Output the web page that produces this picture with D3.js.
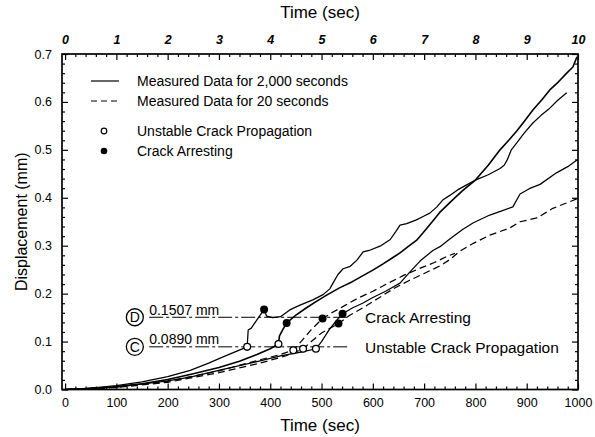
<!DOCTYPE html>
<html><head><meta charset="utf-8">
<script src="https://cdn.jsdelivr.net/npm/d3@7"></script>
<style>
body{margin:0;background:#fff;}
text{font-family:Arial,"Liberation Sans",Helvetica,sans-serif;fill:#000;}
</style></head><body>
<svg id="c" width="595" height="437"></svg>
<script>
// ---- data (time in seconds, displacement in mm) ----
const xTicksBottom = [0,100,200,300,400,500,600,700,800,900,1000];
const xTicksTop = [0,1,2,3,4,5,6,7,8,9,10];
const yTicks = [0.0,0.1,0.2,0.3,0.4,0.5,0.6,0.7];

// solid curves: measured data for 2,000 seconds (bottom axis, sec)
const solid1 = [[0,0],[50,0.003],[100,0.008],[150,0.016],[200,0.027],[244,0.04],[280,0.055],[308,0.068],[335,0.08],[355,0.089],[357,0.124],[363,0.128],[375,0.147],[388,0.167],[393,0.153],[405,0.15],[420,0.152],[438,0.166],[458,0.176],[483,0.187],[503,0.198],[516,0.21],[524,0.225],[532,0.24],[542,0.252],[556,0.257],[569,0.27],[581,0.287],[595,0.291],[614,0.299],[634,0.313],[645,0.33],[653,0.343],[666,0.346],[685,0.354],[700,0.362],[711,0.368],[725,0.381],[737,0.396],[750,0.405],[766,0.417],[783,0.427],[800,0.437],[825,0.448],[848,0.461],[856,0.468],[862,0.479],[870,0.5],[881,0.515],[895,0.535],[912,0.556],[928,0.572],[945,0.587],[960,0.603],[978,0.619]];
const solid2 = [[0,0],[50,0.002],[100,0.006],[150,0.012],[200,0.021],[250,0.033],[300,0.046],[340,0.059],[374,0.073],[400,0.085],[416,0.095],[418,0.112],[425,0.126],[432,0.139],[450,0.155],[470,0.17],[490,0.184],[510,0.197],[535,0.212],[560,0.225],[580,0.237],[600,0.249],[620,0.262],[640,0.276],[653,0.285],[670,0.299],[685,0.311],[698,0.327],[715,0.349],[730,0.369],[750,0.39],[775,0.415],[800,0.437],[825,0.468],[848,0.5],[865,0.52],[881,0.54],[897,0.562],[912,0.583],[930,0.605],[945,0.625],[962,0.642],[978,0.66],[990,0.673],[998,0.694]];
const solid3 = [[0,0],[100,0.005],[200,0.018],[244,0.026],[308,0.042],[374,0.058],[420,0.07],[460,0.078],[489,0.085],[500,0.1],[515,0.125],[530,0.145],[541,0.158],[560,0.17],[580,0.18],[600,0.192],[625,0.205],[653,0.222],[672,0.245],[692,0.268],[717,0.29],[731,0.298],[750,0.314],[775,0.334],[796,0.348],[828,0.364],[850,0.372],[873,0.381],[887,0.408],[905,0.419],[926,0.428],[958,0.452],[980,0.465],[998,0.479]];
// dashed curves: measured data for 20 seconds (top axis, sec)
const dashed1 = [[0,0],[1,0.004],[2,0.015],[3,0.035],[3.8,0.055],[4.3,0.07],[4.64,0.085],[4.8,0.1],[5,0.118],[5.2,0.13],[5.33,0.1375],[5.55,0.155],[5.8,0.17],[6.1,0.19],[6.4,0.21],[6.7,0.227],[7,0.242],[7.31,0.258],[7.5,0.271],[7.7,0.289],[7.96,0.305],[8.28,0.322],[8.67,0.337],[8.87,0.35],[9.2,0.358],[9.51,0.378],[9.75,0.388],[9.98,0.398]];
const dashed2 = [[0,0],[1,0.005],[2,0.017],[3,0.039],[3.8,0.062],[4.2,0.073],[4.45,0.082],[4.6,0.1],[4.8,0.125],[5.02,0.148],[5.2,0.16],[5.45,0.175],[5.7,0.19],[6,0.205],[6.3,0.222],[6.6,0.238],[6.9,0.252],[7.2,0.265],[7.45,0.278],[7.6,0.284]];

// event markers (bottom axis, sec)
const unstable = [[355,0.089],[416,0.095],[445,0.082],[464,0.085],[489,0.085]];
const arresting = [[388,0.167],[432,0.139],[502,0.148],[533,0.1375],[541,0.158]];
const levels = [{v:0.1507,label:"0.1507 mm",tag:"D"},{v:0.0890,label:"0.0890 mm",tag:"C"}];
const levelSpan = [164, 556];
const legendLabels = ["Measured Data for 2,000 seconds","Measured Data for 20 seconds","Unstable Crack Propagation","Crack Arresting"];

// ---- drawing ----
const svg = d3.select("#c");
const L=62,R=578,T=54,B=389.5;
const x = d3.scaleLinear().domain([-6,1000]).range([L,R]);
const xt = d3.scaleLinear().domain([-0.06,10]).range([L,R]);
const y = d3.scaleLinear().domain([0,0.7]).range([B,T]);

const line = d3.line().x(d=>x(d[0])).y(d=>y(d[1]));
const lineT = d3.line().x(d=>xt(d[0])).y(d=>y(d[1]));

const fnt = "Arial, 'Liberation Sans', sans-serif";
function style(g, size, italic, bold){
  g.select(".domain").remove();
  g.selectAll("line").attr("stroke","#000").attr("stroke-width",1.2);
  g.selectAll("text").attr("font-family",fnt).attr("font-size",size)
   .attr("font-style",italic?"italic":"normal").attr("font-weight",bold?"bold":"normal");
}
const minorB = d3.range(0,1001,20).filter(v=>v%100!==0);
const minorT = d3.range(0,10.01,0.2).filter(v=>Math.abs(v-Math.round(v))>1e-6);
const minorY = d3.range(0,0.7001,0.02).filter(v=>Math.abs(v*10-Math.round(v*10))>1e-6);

svg.append("g").attr("transform",`translate(0,${B})`)
  .call(d3.axisBottom(x).tickValues(xTicksBottom).tickSize(-6).tickPadding(9).tickFormat(d3.format("d")))
  .call(g=>style(g,12.5,false,false));
svg.append("g").attr("transform",`translate(0,${B})`)
  .call(d3.axisBottom(x).tickValues(minorB).tickSize(-3).tickFormat(""))
  .call(g=>style(g,12,false,false));
svg.append("g").attr("transform",`translate(0,${T})`)
  .call(d3.axisTop(xt).tickValues(xTicksTop).tickSize(-6).tickPadding(10).tickFormat(d3.format("d")))
  .call(g=>style(g,12.5,true,true));
svg.append("g").attr("transform",`translate(0,${T})`)
  .call(d3.axisTop(xt).tickValues(minorT).tickSize(-3).tickFormat(""))
  .call(g=>style(g,12,false,false));
svg.append("g").attr("transform",`translate(${L},0)`)
  .call(d3.axisLeft(y).tickValues(yTicks).tickSize(-6).tickPadding(10).tickFormat(d3.format(".1f")))
  .call(g=>style(g,12.5,false,false));
svg.append("g").attr("transform",`translate(${L},0)`)
  .call(d3.axisLeft(y).tickValues(minorY).tickSize(-3).tickFormat(""))
  .call(g=>style(g,12,false,false));
svg.append("g").attr("transform",`translate(${R},0)`)
  .call(d3.axisRight(y).tickValues(yTicks).tickSize(-6).tickFormat(""))
  .call(g=>style(g,12,false,false));
svg.append("g").attr("transform",`translate(${R},0)`)
  .call(d3.axisRight(y).tickValues(minorY).tickSize(-3).tickFormat(""))
  .call(g=>style(g,12,false,false));

// frame
svg.append("rect").attr("x",L).attr("y",T).attr("width",R-L).attr("height",B-T)
  .attr("fill","none").attr("stroke","#000").attr("stroke-width",1.7);

// titles
svg.append("text").attr("x",320).attr("y",18).attr("text-anchor","middle")
  .attr("font-size",17).text("Time (sec)");
svg.append("text").attr("x",320).attr("y",431).attr("text-anchor","middle")
  .attr("font-size",17).text("Time (sec)");
svg.append("text").attr("transform",`translate(27,${(T+B)/2}) rotate(-90)`)
  .attr("text-anchor","middle").attr("font-size",16).text("Displacement (mm)");

// level lines
const lv = svg.append("g");
levels.forEach(d=>{
  lv.append("line").attr("x1",x(levelSpan[0])).attr("x2",x(levelSpan[1]))
    .attr("y1",y(d.v)).attr("y2",y(d.v)).attr("stroke","#000").attr("stroke-width",1)
    .attr("stroke-dasharray","14,3,3,3");
  lv.append("text").attr("x",x(levelSpan[0])).attr("y",y(d.v)-2.5).attr("font-size",14).text(d.label);
  lv.append("circle").attr("cx",x(136)).attr("cy",y(d.v)).attr("r",8.5)
    .attr("fill","none").attr("stroke","#000").attr("stroke-width",1.3);
  lv.append("text").attr("x",x(136)).attr("y",y(d.v)+5).attr("text-anchor","middle")
    .attr("font-size",14).text(d.tag);
});
svg.append("text").attr("x",365).attr("y",y(0.1507)+6).attr("font-size",15.5).text("Crack Arresting");
svg.append("text").attr("x",365).attr("y",y(0.0890)+6).attr("font-size",15.5).text("Unstable Crack Propagation");

// curves
const cg = svg.append("g").attr("fill","none").attr("stroke","#000").attr("stroke-linejoin","round");
[solid1,solid3].forEach(s=>cg.append("path").attr("d",line(s)).attr("stroke-width",1.25));
cg.append("path").attr("d",line(solid2)).attr("stroke-width",1.6);
[dashed1,dashed2].forEach(s=>cg.append("path").attr("d",lineT(s)).attr("stroke-width",1.25).attr("stroke-dasharray","7,4"));

// markers
svg.append("g").selectAll("circle").data(unstable).join("circle")
  .attr("cx",d=>x(d[0])).attr("cy",d=>y(d[1])).attr("r",3.4)
  .attr("fill","#fff").attr("stroke","#000").attr("stroke-width",1.3);
svg.append("g").selectAll("circle").data(arresting).join("circle")
  .attr("cx",d=>x(d[0])).attr("cy",d=>y(d[1])).attr("r",4).attr("fill","#000");

// legend
const lg = svg.append("g");
const ly = [81,101,131,151];
lg.append("line").attr("x1",91).attr("x2",119).attr("y1",ly[0]).attr("y2",ly[0]).attr("stroke","#000").attr("stroke-width",1.2);
lg.append("line").attr("x1",91).attr("x2",119).attr("y1",ly[1]).attr("y2",ly[1]).attr("stroke","#000").attr("stroke-width",1.2).attr("stroke-dasharray","6,4");
lg.append("circle").attr("cx",104).attr("cy",ly[2]).attr("r",2.8).attr("fill","#fff").attr("stroke","#000").attr("stroke-width",1.2);
lg.append("circle").attr("cx",104).attr("cy",ly[3]).attr("r",3.3).attr("fill","#000");
legendLabels.forEach((t,i)=>lg.append("text").attr("x",137).attr("y",ly[i]+5).attr("font-size",14).text(t));
</script>
</body></html>
